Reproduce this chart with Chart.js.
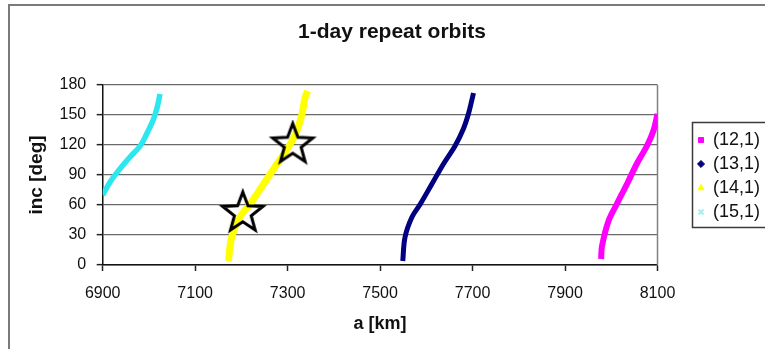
<!DOCTYPE html>
<html>
<head>
<meta charset="utf-8">
<title>1-day repeat orbits</title>
<script src="https://cdn.jsdelivr.net/npm/chart.js@4/dist/chart.umd.min.js"></script>
<style>
  html, body { margin: 0; padding: 0; background: #ffffff; }
  #wrap { width: 765px; height: 349px; }
  canvas { display: block; }
</style>
</head>
<body>
<div id="wrap"><canvas id="chart" width="765" height="349"></canvas></div>
<script>
// Semi-major axis a [km] against inclination [deg] for 1-day repeat ground tracks,
// one series per (revolutions per day, days) pair.
const seriesNames = ['(12,1)', '(13,1)', '(14,1)', '(15,1)'];

const a12   = [7978, 7980, 7994, 8012, 8034, 8055, 8077, 8091, 8100];
const inc12 = [6, 19, 44, 61, 81, 101, 119, 134, 151];

const a13   = [7549, 7554, 7569, 7587, 7612, 7637, 7662, 7680, 7691, 7698, 7702];
const inc13 = [4, 28, 48, 61, 81, 101, 119, 136, 151, 164, 172];

const a14   = [7172, 7179, 7197, 7219, 7248, 7277, 7302, 7320, 7331, 7338, 7343];
const inc14 = [4, 28, 48, 61, 81, 101, 118, 134, 151, 168, 174];

const a15   = [6900, 6916, 6937, 6959, 6981, 6995, 7010, 7018, 7024];
const inc15 = [70, 83, 96, 108, 119, 131, 146, 158, 171];

// Highlighted (14,1) solutions
const starA   = [7203, 7311];
const starInc = [52, 120.5];

// Axis ranges and tick spacing
const xMin = 6900, xMax = 8100, xStep = 200;
const yMin = 0, yMax = 180, yStep = 30;

const toPoints = (xs, ys) => xs.map((x, i) => ({ x: x, y: ys[i] }));

// Outline five-pointed star used as the highlight marker
function makeStar(R, lw) {
  const size = Math.ceil(2 * R + lw * 2 + 2);
  const c = document.createElement('canvas');
  c.width = size; c.height = size;
  const g = c.getContext('2d');
  const cx = size / 2, cy = size / 2, r = R * 0.42;
  g.beginPath();
  for (let k = 0; k < 10; k++) {
    const rad = k % 2 === 0 ? R : r;
    const ang = -Math.PI / 2 + k * Math.PI / 5;
    const px = cx + rad * Math.cos(ang), py = cy + rad * Math.sin(ang);
    if (k === 0) g.moveTo(px, py); else g.lineTo(px, py);
  }
  g.closePath();
  g.lineJoin = 'miter';
  g.lineWidth = lw;
  g.strokeStyle = '#000000';
  g.stroke();
  return c;
}
const starImg = makeStar(21, 3);

Chart.defaults.font.family = "'Liberation Sans', Arial, sans-serif";
Chart.defaults.color = '#111111';

// Page frame, legend frame and plot border
const framePlugin = {
  id: 'frame',
  afterLayout(chart) {
    const lg = chart.legend;
    lg.left = 692; lg.right = 790; lg.width = 98;
    lg.top = 125; lg.bottom = 349; lg.height = 224;
    const t = chart.titleBlock;
    t.left = 9; t.right = 775; t.width = 766;
  },
  beforeDraw(chart) {
    const ctx = chart.ctx;
    ctx.save();
    ctx.fillStyle = '#ffffff';
    ctx.fillRect(0, 0, chart.width, chart.height);
    ctx.restore();
  },
  beforeDatasetsDraw(chart) {
    const ctx = chart.ctx, ca = chart.chartArea;
    ctx.save();
    ctx.strokeStyle = '#808080';
    ctx.lineWidth = 1.5;
    ctx.beginPath();
    ctx.moveTo(ca.right, ca.top);
    ctx.lineTo(ca.right, ca.bottom);
    ctx.stroke();
    ctx.restore();
  },
  afterDraw(chart) {
    const ctx = chart.ctx;
    ctx.save();
    ctx.strokeStyle = '#7a7a7a';
    ctx.lineWidth = 2;
    ctx.strokeRect(9, 5, 800, 400);
    ctx.strokeStyle = '#3a3a3a';
    ctx.lineWidth = 1.5;
    ctx.strokeRect(692.5, 122.5, 100, 105);
    ctx.restore();
  }
};

function curve(idx, xs, ys, color, width, style, markColor) {
  return {
    label: seriesNames[idx],
    data: toPoints(xs, ys),
    showLine: true,
    borderColor: color,
    borderWidth: width,
    borderCapStyle: 'butt',
    tension: 0.35,
    pointRadius: 0,
    pointStyle: style,
    pointBackgroundColor: markColor,
    pointBorderColor: markColor,
    pointBorderWidth: style === 'crossRot' ? 2 : 1,
    order: 2
  };
}

new Chart(document.getElementById('chart'), {
  type: 'scatter',
  data: {
    datasets: [
      curve(0, a12, inc12, '#ff00ff', 6, 'rect', '#ff00ff'),
      curve(1, a13, inc13, '#000080', 5, 'rectRot', '#000080'),
      curve(2, a14, inc14, '#ffff00', 7, 'triangle', '#ffff00'),
      curve(3, a15, inc15, '#2ce6f0', 5.5, 'crossRot', '#a8eef0'),
      {
        label: 'highlight',
        data: toPoints(starA, starInc),
        showLine: false,
        pointStyle: starImg,
        pointRadius: 21,
        order: 1
      }
    ]
  },
  options: {
    responsive: false,
    animation: false,
    devicePixelRatio: 1,
    events: [],
    layout: { padding: { left: 0, right: 107.5, top: 0, bottom: 0 } },
    plugins: {
      tooltip: { enabled: false },
      title: {
        display: true,
        text: '1-day repeat orbits',
        color: '#111111',
        font: { size: 21, weight: 'bold' },
        padding: { top: 20, bottom: 39.8 }
      },
      legend: {
        display: true,
        position: 'chartArea',
        align: 'start',
        labels: {
          filter: (item) => item.datasetIndex < 4,
          usePointStyle: true,
          boxWidth: 6,
          boxHeight: 5,
          padding: 6,
          color: '#111111',
          font: { size: 18 }
        }
      }
    },
    scales: {
      x: {
        type: 'linear',
        position: 'bottom',
        min: xMin,
        max: xMax,
        afterFit: (s) => { s.height = 84; },
        ticks: {
          stepSize: xStep,
          padding: 13,
          color: '#111111',
          font: { size: 16 },
          maxRotation: 0,
          autoSkip: false,
          callback: (v) => String(v)
        },
        grid: {
          display: true,
          drawOnChartArea: false,
          drawTicks: true,
          tickLength: 6,
          tickColor: '#222222',
          tickWidth: 1.5
        },
        border: { display: true, color: '#111111', width: 1.5 },
        title: {
          display: true,
          text: 'a [km]',
          color: '#111111',
          font: { size: 18, weight: 'bold' },
          padding: { top: 0, bottom: 14 }
        }
      },
      y: {
        type: 'linear',
        position: 'left',
        min: yMin,
        max: yMax,
        afterFit: (s) => { s.width = 102.7; },
        ticks: {
          stepSize: yStep,
          padding: 10.5,
          color: '#111111',
          font: { size: 16 },
          callback: (v) => String(v)
        },
        grid: {
          display: true,
          drawOnChartArea: true,
          drawTicks: true,
          tickLength: 6,
          color: '#6a6a6a',
          lineWidth: 1.3,
          tickColor: '#222222',
          tickWidth: 1.5
        },
        border: { display: true, color: '#111111', width: 1.5 },
        title: {
          display: true,
          text: 'inc [deg]',
          color: '#111111',
          font: { size: 19, weight: 'bold' },
          padding: { top: 25.6, bottom: 0 }
        }
      }
    }
  },
  plugins: [framePlugin]
});
</script>
</body>
</html>
